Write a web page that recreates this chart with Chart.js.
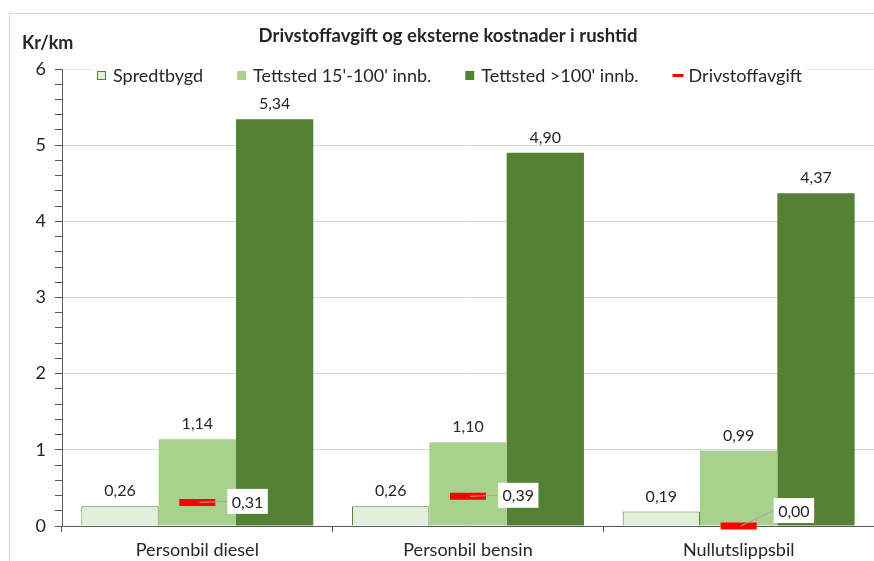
<!DOCTYPE html>
<html>
<head>
<meta charset="utf-8">
<script src="https://cdn.jsdelivr.net/npm/chart.js@4.4.1/dist/chart.umd.min.js"></script>
<style>
  html, body { margin: 0; padding: 0; background: #fff; overflow: hidden; }
  #wrap { width: 874px; height: 561px; overflow: hidden; position: relative; }
  canvas { display: block; }
</style>
</head>
<body>
<div id="wrap"><canvas id="c" width="890" height="561"></canvas></div>
<script>
// Categories and series values (Kr/km)
const categories = ['Personbil diesel', 'Personbil bensin', 'Nullutslippsbil'];
const spredtbygd = [0.26, 0.26, 0.19];
const tettsted15 = [1.14, 1.10, 0.99];
const tettsted100 = [5.34, 4.90, 4.37];
const drivstoffavgift = [0.31, 0.39, 0.00];

const seriesNames = ['Spredtbygd', "Tettsted 15'-100' innb.", "Tettsted >100' innb.", 'Drivstoffavgift'];
const yTitle = 'Kr/km';
const chartTitle = 'Drivstoffavgift og eksterne kostnader i rushtid';

const FONT = 'Lato, "Open Sans", sans-serif';
const TEXT = '#262626';
const AXIS = '#595959';
const C_LIGHT = '#e2efda';
const C_MID = '#a9d18e';
const C_DARK = '#548235';
const C_RED = '#ff0000';

const fmt = v => v.toFixed(2).replace('.', ',');

// Frame, title, axis unit and legend
const decor = {
  id: 'decor',
  beforeDraw(chart) {
    const ctx = chart.ctx;
    ctx.save();
    ctx.fillStyle = '#fff';
    ctx.fillRect(0, 0, chart.width, chart.height);
    ctx.strokeStyle = '#d9d9d9';
    ctx.lineWidth = 1;
    ctx.strokeRect(9.5, 13.5, chart.width + 20, chart.height + 20);
    ctx.restore();
  },
  afterDraw(chart) {
    const ctx = chart.ctx;
    ctx.save();
    ctx.fillStyle = TEXT;
    ctx.textBaseline = 'middle';
    ctx.font = 'bold 18.5px ' + FONT;
    ctx.textAlign = 'center';
    ctx.fillText(chartTitle, 448, 36);
    ctx.font = 'bold 18px ' + FONT;
    ctx.textAlign = 'left';
    ctx.fillText(yTitle, 22, 43);

    // legend
    ctx.font = '18px ' + FONT;
    const ly = 75;
    let x = 97;
    const gap = 34;
    const widths = seriesNames.map(n => ctx.measureText(n).width);
    const total = widths.reduce((a, b) => a + b, 0) + 4 * 16 + 3 * gap;
    ctx.fillStyle = '#fff';
    ctx.fillRect(x - 4, ly - 12, total + 8, 24);
    const fills = [C_LIGHT, C_MID, C_DARK];
    seriesNames.forEach((name, i) => {
      if (i < 3) {
        ctx.fillStyle = fills[i];
        ctx.fillRect(x, ly - 4, 9, 9);
        if (i === 0) {
          ctx.strokeStyle = C_DARK;
          ctx.lineWidth = 1;
          ctx.strokeRect(x + 0.5, ly - 3.5, 8, 8);
        }
      } else {
        ctx.fillStyle = C_RED;
        ctx.fillRect(x, ly - 1, 11, 3);
      }
      ctx.fillStyle = TEXT;
      ctx.fillText(name, x + 16, ly + 1);
      x += 16 + widths[i] + gap;
    });
    ctx.restore();
  },
  afterDatasetsDraw(chart) {
    const ctx = chart.ctx;
    ctx.save();
    // values above bars
    ctx.font = '16px ' + FONT;
    ctx.fillStyle = TEXT;
    ctx.textAlign = 'center';
    ctx.textBaseline = 'bottom';
    for (let d = 0; d < 3; d++) {
      const meta = chart.getDatasetMeta(d);
      meta.data.forEach((bar, i) => {
        ctx.fillText(fmt(chart.data.datasets[d].data[i]), bar.x, bar.y - 7);
      });
    }
    // boxed labels for the tax markers
    const meta = chart.getDatasetMeta(3);
    const bottom = chart.chartArea.bottom;
    ctx.font = '16px ' + FONT;
    ctx.textBaseline = 'middle';
    meta.data.forEach((pt, i) => {
      const txt = fmt(drivstoffavgift[i]);
      const w = ctx.measureText(txt).width + 9;
      const h = 25;
      let cy = pt.y - 1;
      const lifted = cy + h / 2 > bottom - 2;
      if (lifted) cy = bottom - 3 - h / 2;
      const bx = pt.x + 30 + (lifted ? 5 : 0);
      ctx.strokeStyle = '#a6a6a6';
      ctx.lineWidth = 1;
      ctx.beginPath();
      ctx.moveTo(pt.x + 2, pt.y);
      ctx.lineTo(bx, cy);
      ctx.stroke();
      ctx.fillStyle = '#fff';
      ctx.fillRect(bx, cy - h / 2, w, h);
      ctx.fillStyle = TEXT;
      ctx.fillText(txt, bx + w / 2, cy + 1);
    });
    ctx.restore();
  }
};

new Chart(document.getElementById('c'), {
  type: 'bar',
  data: {
    labels: categories,
    datasets: [
      { label: seriesNames[0], data: spredtbygd, backgroundColor: C_LIGHT, borderColor: C_DARK, borderWidth: 1, order: 2 },
      { label: seriesNames[1], data: tettsted15, backgroundColor: C_MID, borderWidth: 0, order: 2 },
      { label: seriesNames[2], data: tettsted100, backgroundColor: C_DARK, borderWidth: 0, order: 2 },
      { label: seriesNames[3], data: drivstoffavgift, type: 'line', showLine: false, clip: false,
        pointStyle: 'line', pointRadius: 18, pointHoverRadius: 18,
        pointBorderWidth: 7, pointBorderColor: C_RED, borderColor: C_RED, order: 1 }
    ]
  },
  options: {
    responsive: false,
    animation: false,
    events: [],
    layout: { autoPadding: false, padding: { top: 69, right: 16, left: 0, bottom: 0 } },
    datasets: { bar: { categoryPercentage: 0.857, barPercentage: 1.0 } },
    plugins: { legend: { display: false }, title: { display: false }, tooltip: { enabled: false } },
    scales: {
      x: {
        afterFit: s => { s.height = 35; s.paddingLeft = 0; s.paddingRight = 0; },
        border: { color: AXIS, width: 1 },
        grid: { display: true, drawOnChartArea: false, offset: true, tickLength: 6, tickColor: AXIS },
        ticks: { color: TEXT, font: { family: FONT, size: 18 }, padding: 7 }
      },
      y: {
        min: 0, max: 6,
        afterFit: s => { s.width = 62; },
        border: { color: AXIS, width: 1 },
        grid: {
          color: ctx => {
            const v = ctx.tick ? ctx.tick.value : 0;
            if (Math.abs(v - Math.round(v)) > 1e-6) return 'rgba(0,0,0,0)';
            return v >= 5.999 ? '#e6e6e6' : '#d9d9d9';
          },
          tickColor: AXIS, tickLength: 7
        },
        ticks: {
          stepSize: 0.2, autoSkip: false, color: TEXT, padding: 9,
          font: { family: FONT, size: 18 },
          callback: v => (Math.abs(v - Math.round(v)) < 1e-6 ? String(Math.round(v)) : '')
        }
      }
    }
  },
  plugins: [decor]
});
</script>
</body>
</html>
